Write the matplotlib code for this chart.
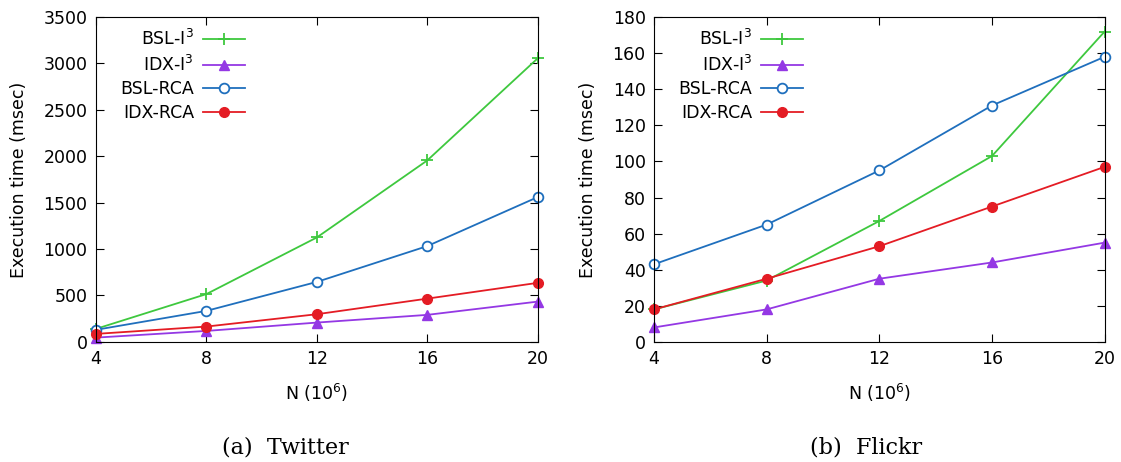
import numpy as np
import matplotlib
matplotlib.use("Agg")
import matplotlib.pyplot as plt

# data
n_values = [4, 8, 12, 16, 20]

tw_bsl_i3 = [140, 515, 1125, 1955, 3055]
tw_idx_i3 = [46, 118, 208, 291, 434]
tw_bsl_rca = [130, 334, 646, 1032, 1560]
tw_idx_rca = [86, 165, 298, 466, 636]

fl_bsl_i3 = [18, 34, 67, 103, 172]
fl_idx_i3 = [8, 18, 35, 44, 55]
fl_bsl_rca = [43, 65, 95, 131, 158]
fl_idx_rca = [18, 35, 53, 75, 97]

labels = ["BSL-I$^3$", "IDX-I$^3$", "BSL-RCA", "IDX-RCA"]
colors = ["#3ec83e", "#9438e4", "#1f6fbd", "#e41c24"]

plt.rcParams["font.family"] = "DejaVu Sans"
plt.rcParams["mathtext.fontset"] = "dejavusans"

fig = plt.figure(figsize=(11.21, 4.62), dpi=100)
ax1 = fig.add_axes([0.0856, 0.26, 0.394, 0.703])
ax2 = fig.add_axes([0.5834, 0.26, 0.402, 0.703])


def draw(ax, series, ymax, ystep, caption, cap_x):
	for i, ys in enumerate(series):
		kw = dict(color=colors[i], lw=1.3, label=labels[i], clip_on=False)
		if i == 0:
			ax.plot(n_values, ys, marker="+", ms=9, mew=1.3, **kw)
		elif i == 1:
			ax.plot(n_values, ys, marker="^", ms=7, **kw)
		elif i == 2:
			ax.plot(n_values, ys, marker="o", ms=7, mfc="white", mew=1.3, **kw)
		else:
			ax.plot(n_values, ys, marker="o", ms=7, **kw)
	ax.set_xlim(4, 20)
	ax.set_ylim(0, ymax)
	ax.set_xticks(n_values)
	ax.set_yticks(np.arange(0, ymax + 1, ystep))
	ax.tick_params(direction="in", top=True, right=True, labelsize=12.5, length=6, pad=6)
	ax.set_xlabel("N (10$^6$)", fontsize=12.5, labelpad=10)
	ax.set_ylabel("Execution time (msec)", fontsize=12.5, labelpad=11)
	ax.legend(loc="upper left", frameon=False, markerfirst=False, fontsize=12.5,
		handlelength=2.4, labelspacing=0.33, handletextpad=0.5,
		bbox_to_anchor=(0.02, 1.012))
	ax.text(cap_x, -0.326, caption, transform=ax.transAxes, ha="center", va="center",
		fontsize=16, family="DejaVu Serif")


draw(ax1, [tw_bsl_i3, tw_idx_i3, tw_bsl_rca, tw_idx_rca], 3500, 500, "(a)  Twitter", 0.428)
draw(ax2, [fl_bsl_i3, fl_idx_i3, fl_bsl_rca, fl_idx_rca], 180, 20, "(b)  Flickr", 0.47)

fig.savefig("out.png", dpi=100)
